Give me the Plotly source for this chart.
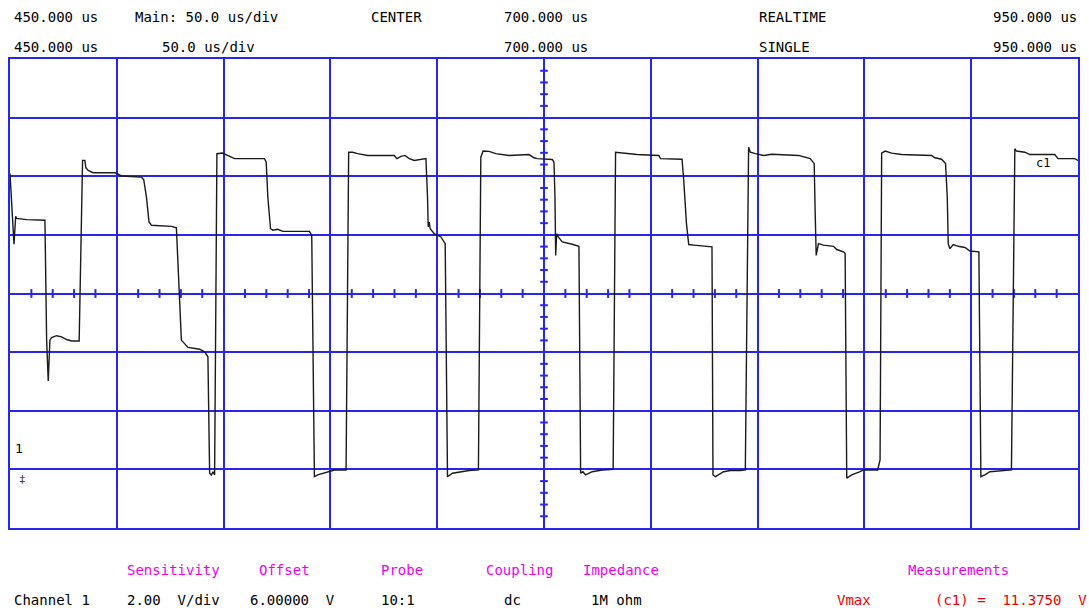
import plotly.graph_objects as go

# ---- waveform data (time in us, voltage in V) ----
time_us = [450.0, 451.87, 452.66, 453.13, 457.80, 466.36, 467.15, 467.90, 468.69, 469.49,
           471.82, 474.16, 476.50, 478.83, 482.38, 483.97, 485.05, 485.51, 486.59, 488.93,
           499.07, 502.20, 511.54, 512.62, 513.88, 515.09, 516.21, 525.56, 527.90, 528.65,
           530.23, 530.98, 533.32, 538.79, 541.12, 542.66, 543.46, 544.25, 545.00, 545.79,
           546.87, 549.39, 552.01, 555.14, 569.16, 569.95, 570.70, 571.96, 573.04, 575.37,
           577.71, 589.39, 590.19, 591.26, 592.52, 594.07, 598.74, 601.87, 607.34, 608.55,
           610.42, 612.76, 617.43, 629.91, 631.17, 633.04, 634.91, 636.92, 639.25, 641.59,
           644.72, 645.47, 645.79, 646.26, 646.73, 648.60, 651.73, 653.74, 654.82, 657.15,
           661.83, 664.95, 669.30, 670.42, 671.50, 674.30, 677.43, 683.64, 692.99, 695.33,
           696.87, 703.88, 704.67, 705.14, 705.47, 705.93, 706.68, 708.55, 713.22, 716.36,
           717.15, 718.22, 719.49, 722.57, 727.24, 732.38, 733.50, 736.59, 743.60, 753.74,
           754.53, 764.63, 765.42, 766.68, 767.76, 770.09, 777.90, 778.64, 779.11, 780.23,
           784.11, 787.24, 791.92, 794.25, 795.79, 796.59, 798.93, 802.80, 806.68, 819.16,
           824.63, 826.50, 826.96, 827.43, 828.50, 830.84, 835.51, 837.06, 840.19, 840.98,
           841.73, 844.07, 848.00, 849.53, 856.21, 857.33, 858.08, 859.67, 862.76, 867.43,
           881.45, 883.04, 886.12, 887.99, 888.79, 889.25, 890.05, 891.59, 893.93, 897.06,
           899.40, 903.60, 904.54, 906.41, 908.74, 918.84, 920.43, 921.18, 925.10, 927.44,
           939.12, 940.66, 948.46, 950.0]
volts = [10.09, 7.68, 8.63, 8.56, 8.52, 8.50, 4.41, 3.02, 4.41, 4.50,
         4.56, 4.52, 4.43, 4.38, 4.38, 10.54, 10.54, 10.29, 10.20, 10.12,
         10.12, 10.01, 9.97, 9.88, 9.29, 8.44, 8.33, 8.29, 8.24, 7.03,
         4.41, 4.35, 4.16, 4.10, 4.01, 3.84, -0.13, -0.19, -0.08, -0.19,
         10.77, 10.79, 10.71, 10.60, 10.60, 10.48, 9.29, 8.21, 8.16, 8.19,
         8.12, 8.10, 8.12, 7.99, -0.25, -0.19, -0.08, -0.02, -0.02, 10.82,
         10.82, 10.77, 10.71, 10.71, 10.60, 10.68, 10.71, 10.60, 10.54, 10.57,
         10.60, 9.29, 8.27, 8.44, 8.21, 8.04, 7.93, 7.70, -0.25, -0.13,
         -0.08, -0.04, -0.02, 10.65, 10.86, 10.85, 10.77, 10.71, 10.74, 10.63,
         10.60, 10.57, 10.48, 9.29, 7.30, 8.04, 7.93, 7.76, 7.68, 7.61,
         -0.13, -0.08, -0.19, -0.08, -0.02, 0.00, 10.82, 10.79, 10.74, 10.71,
         10.60, 10.58, 9.86, 8.39, 7.67, 7.65, 7.61, 7.59, -0.19, -0.25,
         -0.08, -0.04, -0.04, -0.02, 10.99, 10.82, 10.77, 10.71, 10.75, 10.71,
         10.60, 10.43, 8.73, 7.30, 7.70, 7.65, 7.61, 7.50, 7.42, 7.36,
         -0.30, -0.19, -0.08, -0.02, -0.02, 0.32, 10.79, 10.86, 10.79, 10.74,
         10.71, 10.63, 10.58, 10.43, 9.29, 7.70, 7.53, 7.67, 7.61, 7.57,
         7.45, 7.42, -0.25, -0.19, -0.08, -0.02, 10.94, 10.86, 10.82, 10.74,
         10.74, 10.60, 10.60, 10.54]

# ---- scope settings ----
t_start, t_center, t_end = 450.0, 700.0, 950.0
time_per_div = 50.0
volts_per_div = 2.0
offset_v = 6.0
n_vdiv = 8

header_row1 = ["450.000 us", "Main: 50.0 us/div", "CENTER", "700.000 us", "REALTIME", "950.000 us"]
header_row2 = ["450.000 us", "50.0 us/div", "", "700.000 us", "SINGLE", "950.000 us"]
footer_labels = ["Sensitivity", "Offset", "Probe", "Coupling", "Impedance", "Measurements"]
footer_values = ["Channel 1", "2.00  V/div", "6.00000  V", "10:1", "dc", "1M ohm"]
meas_name = "Vmax"
meas_value = "(c1) =  11.3750  V"

y_lo = offset_v - volts_per_div * n_vdiv / 2
y_hi = offset_v + volts_per_div * n_vdiv / 2

GRID = "#2626EE"
W, H = 1089, 612
ML, MR, MT, MB = 10, 9, 59, 84

fig = go.Figure()

# minor ticks on the centre cross-hair
tx, ty = [], []
k = 0
t = t_start
while t <= t_end + 1e-9:
    if k % 5 != 0:
        tx += [t, t, None]
        ty += [offset_v - 0.15, offset_v + 0.15, None]
    k += 1
    t = t_start + k * time_per_div / 5
k = 0
v = y_lo
while v <= y_hi + 1e-9:
    if k % 5 != 0:
        tx += [t_center - 1.8, t_center + 1.8, None]
        ty += [v, v, None]
    k += 1
    v = y_lo + k * volts_per_div / 5
fig.add_trace(go.Scatter(x=tx, y=ty, mode="lines", line=dict(color=GRID, width=2),
                         hoverinfo="skip", showlegend=False))

fig.add_trace(go.Scatter(x=time_us, y=volts, mode="lines",
                         line=dict(color="#1a1a1a", width=1.4), showlegend=False))

fig.update_xaxes(range=[t_start, t_end], dtick=time_per_div, tick0=t_start,
                 showgrid=True, gridcolor=GRID, gridwidth=2, zeroline=False,
                 showticklabels=False, ticks="", showline=True, mirror=True,
                 linecolor=GRID, linewidth=2)
fig.update_yaxes(range=[y_lo, y_hi], dtick=volts_per_div, tick0=y_lo,
                 showgrid=True, gridcolor=GRID, gridwidth=2, zeroline=False,
                 showticklabels=False, ticks="", showline=True, mirror=True,
                 linecolor=GRID, linewidth=2)


def px(x):
    return (x - ML) / (W - ML - MR)


def py(y):
    return (H - MB - y) / (H - MT - MB)


FONT = "DejaVu Sans Mono"
ann = []


def label(x, y, text, color="black", size=14):
    if text:
        ann.append(dict(x=px(x), y=py(y), xref="paper", yref="paper", text=text,
                        showarrow=False, xanchor="left", yanchor="middle",
                        font=dict(family=FONT, size=size, color=color)))


hx1 = [12, 133, 370, 503, 758, 993]
hx2 = [12, 160, 370, 503, 758, 993]
for x, s in zip(hx1, header_row1):
    label(x, 17, s)
for x, s in zip(hx2, header_row2):
    label(x, 47, s)

fx = [125, 257, 380, 485, 582, 908]
for x, s in zip(fx, footer_labels):
    label(x, 570, s, color="#F000F0")
vx = [12, 125, 248, 380, 503, 590]
for x, s in zip(vx, footer_values):
    label(x, 600, s)
label(837, 600, meas_name, color="#F00000")
label(935, 600, meas_value, color="#F00000")

# channel marker and cursor label
label(13, 448, "1", size=13)
label(17, 479, "‡", size=11, color="#444")
ann.append(dict(x=933.5, y=10.44, xref="x", yref="y", text="c1", showarrow=False,
                font=dict(family=FONT, size=12, color="black")))

fig.update_layout(width=W, height=H, autosize=False,
                  margin=dict(l=ML, r=MR, t=MT, b=MB, pad=0),
                  paper_bgcolor="white", plot_bgcolor="white",
                  annotations=ann, showlegend=False)

fig.write_html("out.html", config={"displayModeBar": False})
